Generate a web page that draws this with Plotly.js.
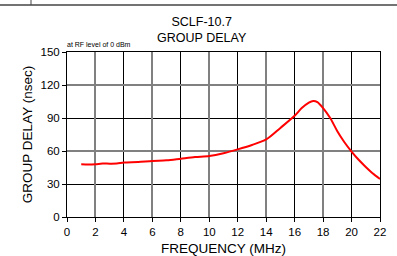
<!DOCTYPE html>
<html>
<head>
<meta charset="utf-8">
<script src="https://cdn.plot.ly/plotly-3.0.1.min.js"></script>
<style>html,body{margin:0;padding:0;background:#fff;}#chart{width:397px;height:256px;}</style>
</head>
<body>
<div id="chart"></div>
<script>
// Data
var freqMHz = [1, 1.5, 2, 2.5, 3, 3.5, 4, 5, 6, 7, 8, 9, 10, 11, 12, 13, 14, 15, 16, 16.5, 17, 17.3, 17.6, 18, 18.5, 19, 19.5, 20, 20.5, 21, 21.5, 22];
var groupDelayNs = [48, 47.8, 48, 48.6, 48.5, 48.6, 49.5, 50, 51, 51.5, 53, 54.5, 55.5, 58, 61.5, 65.5, 70.5, 81, 92, 99, 104, 105.5, 104.5, 99, 90, 78, 68, 59.5, 52, 45.5, 39.5, 34.5];
var xTicks = [0, 2, 4, 6, 8, 10, 12, 14, 16, 18, 20, 22];
var yTicks = [0, 30, 60, 90, 120, 150];
var xGridDark = [4, 8, 12, 16, 20];
var xGridLight = [2, 6, 10, 14, 18];
var yGridDark = [30, 90];
var yGridLight = [60, 120];

var FONT = 'Liberation Sans, Arial, sans-serif';
var xr = [0, 22], yr = [0, 150];

var traces = [
  {x: [], y: [], xaxis: 'x3', yaxis: 'y3', type: 'scatter', showlegend: false, hoverinfo: 'skip'},
  {x: [], y: [], xaxis: 'x2', yaxis: 'y2', type: 'scatter', showlegend: false, hoverinfo: 'skip'},
  {x: freqMHz, y: groupDelayNs, type: 'scatter', mode: 'lines',
   line: {color: '#ff0000', width: 2, shape: 'spline', smoothing: 0.8},
   showlegend: false}
];

var layout = {
  width: 397, height: 256,
  margin: {l: 67, r: 17, t: 52, b: 39},
  paper_bgcolor: '#fff', plot_bgcolor: '#fff',
  font: {family: FONT, color: '#000', size: 12},
  title: {text: 'SCLF-10.7<br>GROUP DELAY', x: 0.508, xref: 'container', xanchor: 'center',
          yref: 'paper', y: 1.103, yanchor: 'bottom',
          font: {size: 12.5, family: FONT, color: '#000'}},
  xaxis: {range: xr, tickvals: xTicks, ticktext: xTicks.map(String), showgrid: false, zeroline: false,
          showline: true, mirror: true, linecolor: '#000', linewidth: 1,
          ticks: 'outside', ticklen: 4, tickcolor: '#000', tickfont: {size: 11.5, family: FONT, color: '#000'},
          title: {text: 'FREQUENCY (MHz)', font: {size: 13.5, family: FONT, color: '#000'}, standoff: 10}},
  yaxis: {range: yr, tickvals: yTicks, ticktext: yTicks.map(String), showgrid: false, zeroline: false,
          showline: true, mirror: true, linecolor: '#000', linewidth: 1,
          ticks: 'outside', ticklen: 4, tickcolor: '#000', tickfont: {size: 11.5, family: FONT, color: '#000'},
          title: {text: 'GROUP DELAY (nsec)', font: {size: 13.5, family: FONT, color: '#000'}, standoff: 4}},
  xaxis2: {range: xr, overlaying: 'x', anchor: 'y2', tickvals: xGridDark, showticklabels: false, ticks: '',
           showgrid: true, gridcolor: '#000', gridwidth: 1, zeroline: false, showline: false},
  yaxis2: {range: yr, overlaying: 'y', anchor: 'x2', tickvals: yGridDark, showticklabels: false, ticks: '',
           showgrid: true, gridcolor: '#000', gridwidth: 1, zeroline: false, showline: false},
  xaxis3: {range: xr, overlaying: 'x', anchor: 'y3', tickvals: xGridLight, showticklabels: false, ticks: '',
           showgrid: true, gridcolor: '#808080', gridwidth: 2, zeroline: false, showline: false},
  yaxis3: {range: yr, overlaying: 'y', anchor: 'x3', tickvals: yGridLight, showticklabels: false, ticks: '',
           showgrid: true, gridcolor: '#808080', gridwidth: 2, zeroline: false, showline: false},
  annotations: [
    {text: 'at RF level of 0 dBm', xref: 'paper', yref: 'paper', x: -0.005, y: 1.048, xanchor: 'left', yanchor: 'middle',
     showarrow: false, font: {size: 7, family: FONT, color: '#000'}}
  ],
  shapes: [
    {type: 'line', xref: 'paper', yref: 'paper', x0: -0.22, x1: 1.06, y0: 1.285, y1: 1.285, line: {color: '#444', width: 1.5}},
    {type: 'line', xref: 'paper', yref: 'paper', x0: -0.115, x1: -0.115, y0: 1.285, y1: 1.32, line: {color: '#444', width: 1}}
  ]
};

Plotly.newPlot('chart', traces, layout, {displayModeBar: false, staticPlot: true});
</script>
</body>
</html>
